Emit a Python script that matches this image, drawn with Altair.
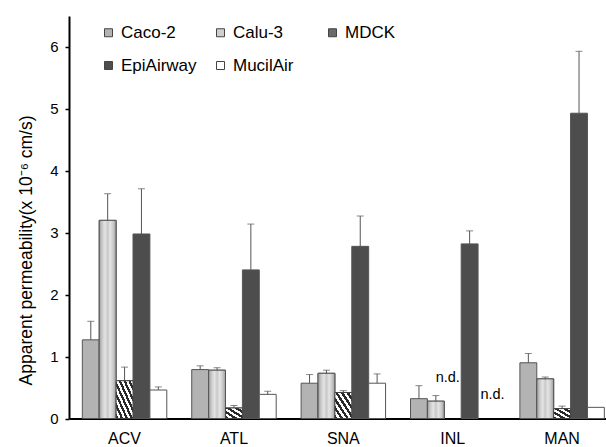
import altair as alt
import pandas as pd

categories = ["ACV", "ATL", "SNA", "INL", "MAN"]
series = ["Caco-2", "Calu-3", "MDCK", "EpiAirway", "MucilAir"]

caco2 = [1.27, 0.79, 0.57, 0.32, 0.90]
caco2_err = [0.30, 0.06, 0.14, 0.21, 0.15]
calu3 = [3.20, 0.78, 0.73, 0.28, 0.64]
calu3_err = [0.43, 0.04, 0.05, 0.09, 0.03]
mdck = [0.61, 0.17, 0.42, None, 0.16]
mdck_err = [0.22, 0.04, 0.03, None, 0.04]
epi = [2.98, 2.40, 2.78, 2.82, 4.93]
epi_err = [0.73, 0.74, 0.49, 0.21, 1.00]
mucil = [0.46, 0.39, 0.57, None, 0.18]
mucil_err = [0.05, 0.05, 0.15, None, None]

nd_series = ["MDCK", "MucilAir"]
nd_category = "INL"

colors = ["#b3b3b3", "#cfcfcf", "#6a6a6a", "#4d4d4d", "#ffffff"]

values = [caco2, calu3, mdck, epi, mucil]
errors = [caco2_err, calu3_err, mdck_err, epi_err, mucil_err]

rows = []
for s, vals, errs in zip(series, values, errors):
    for c, v, e in zip(categories, vals, errs):
        if v is None:
            continue
        rows.append({"cat": c, "series": s, "value": v,
                     "top": v + e if e is not None else None})
df = pd.DataFrame(rows)
err_df = df.dropna(subset=["top"])
nd_df = pd.DataFrame({"cat": [nd_category] * len(nd_series), "series": nd_series,
                      "value": [0, 0], "label": ["n.d.", "n.d."]})

FONT = "Liberation Sans"
PX_PER_UNIT = 402.5 / 6.5

x_enc = alt.X("cat:N", sort=categories,
              scale=alt.Scale(paddingInner=0.228, paddingOuter=0.0685, align=0.89),
              axis=alt.Axis(title=None, ticks=False, labelAngle=0, labelFontSize=16,
                            labelPadding=12, labelColor="black", labelFont=FONT,
                            domainColor="black", domainWidth=2))
xo_enc = alt.XOffset("series:N", sort=series,
                     scale=alt.Scale(paddingInner=0, paddingOuter=0))
y_scale = alt.Scale(domain=[0, 6.5], nice=False)
y_enc = alt.Y("value:Q", scale=y_scale,
              axis=alt.Axis(values=[0, 1, 2, 3, 4, 5, 6], format="d", grid=False,
                            tickSize=4, tickColor="black", tickWidth=1.5,
                            labelFontSize=15, labelPadding=7, labelColor="black",
                            labelFont=FONT, domainColor="black", domainWidth=2,
                            title="Apparent permeability(x 10⁻⁶ cm/s)",
                            titleFontSize=17.5, titleFontWeight="normal", titleFont=FONT,
                            titleColor="black", titleAngle=-90, titleX=-43, titleY=234,
                            titleAlign="center", titleBaseline="middle"))

bars = alt.Chart(df).mark_bar(stroke="#555555", strokeWidth=1).encode(
    x=x_enc, xOffset=xo_enc, y=y_enc,
    color=alt.Color("series:N", sort=series,
                    scale=alt.Scale(domain=series, range=colors),
                    legend=alt.Legend(orient="none", legendX=31, legendY=8, columns=3,
                                      direction="horizontal", title=None,
                                      symbolType="square", symbolSize=64,
                                      symbolStrokeColor="#444444", symbolStrokeWidth=1,
                                      symbolOpacity=1,
                                      labelFontSize=17, labelFont=FONT, labelColor="black",
                                      labelOffset=4, columnPadding=15, rowPadding=15,
                                      gridAlign="all"))
)

# dotted texture of Calu-3 approximated with a horizontal gradient
calu_grad = alt.Gradient(
    gradient="linear", x1=0, y1=0, x2=1, y2=0,
    stops=[alt.GradientStop(offset=0, color="#9c9c9c"),
           alt.GradientStop(offset=0.18, color="#cbcbcb"),
           alt.GradientStop(offset=0.35, color="#e4e4e4"),
           alt.GradientStop(offset=0.5, color="#c8c8c8"),
           alt.GradientStop(offset=0.65, color="#e4e4e4"),
           alt.GradientStop(offset=0.82, color="#cbcbcb"),
           alt.GradientStop(offset=1, color="#9c9c9c")])
calu_layer = alt.Chart(df).transform_filter(alt.datum.series == "Calu-3").mark_bar(
    fill=calu_grad, stroke="#555555", strokeWidth=1).encode(
    x=x_enc, xOffset=xo_enc, y=alt.Y("value:Q", scale=y_scale))


def stripe_gradient(n):
    stops = []
    for i in range(n):
        a, b, c = i / n, (i + 0.5) / n, (i + 1) / n
        stops += [alt.GradientStop(offset=a, color="#2a2a2a"),
                  alt.GradientStop(offset=b, color="#2a2a2a"),
                  alt.GradientStop(offset=b, color="#ffffff"),
                  alt.GradientStop(offset=c, color="#ffffff")]
    return alt.Gradient(gradient="linear", x1=0, y1=1, x2=1, y2=0, stops=stops)


# diagonal hatch of MDCK: one layer per bar so stripe spacing stays similar
hatch_layers = []
bar_w = 17.0
for c, v in zip(categories, mdck):
    if v is None:
        continue
    h = v * PX_PER_UNIT
    diag = (bar_w ** 2 + h ** 2) ** 0.5
    n = max(3, round(2 * bar_w * h / diag / 4.6))
    hatch_layers.append(
        alt.Chart(df).transform_filter(
            (alt.datum.series == "MDCK") & (alt.datum.cat == c)
        ).mark_bar(fill=stripe_gradient(n), stroke="#444444", strokeWidth=1).encode(
            x=x_enc, xOffset=xo_enc, y=alt.Y("value:Q", scale=y_scale)))

rules = alt.Chart(err_df).mark_rule(color="#555555", strokeWidth=1).encode(
    x=x_enc, xOffset=xo_enc, y=alt.Y("value:Q", scale=y_scale), y2="top:Q")

caps = alt.Chart(err_df).mark_tick(color="#555555", thickness=1, size=7).encode(
    x=x_enc, xOffset=xo_enc, y=alt.Y("top:Q", scale=y_scale))

nd_base = alt.Chart(nd_df).encode(
    x=x_enc, xOffset=xo_enc, y=alt.Y("value:Q", scale=y_scale), text="label:N")
nd_mdck = nd_base.transform_filter(alt.datum.series == "MDCK").mark_text(
    fontSize=14.5, font=FONT, color="black", dx=-5, dy=-41)
nd_mucil = nd_base.transform_filter(alt.datum.series == "MucilAir").mark_text(
    fontSize=14.5, font=FONT, color="black", dx=6, dy=-24)

chart = alt.layer(bars, calu_layer, *hatch_layers, rules, caps, nd_mdck, nd_mucil).properties(
    width=537, height=402.5,
    autosize=alt.AutoSizeParams(type="none"),
    padding={"left": 69, "top": 16, "right": 0, "bottom": 28.5},
).configure_view(stroke=None)

chart.save("out.html", embed_options={"renderer": "svg", "actions": False})
